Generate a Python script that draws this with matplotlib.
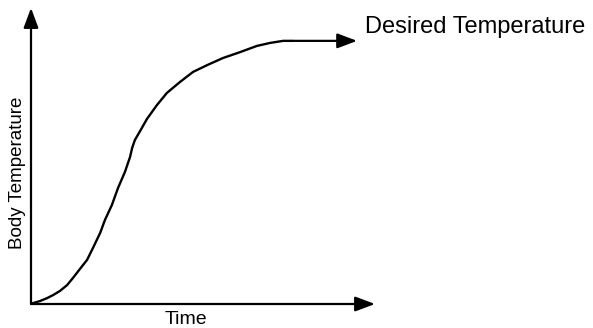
#Body temperature rising over time towards the desired temperature

import matplotlib
matplotlib.use('Agg')
import matplotlib.pyplot as plt
import numpy as np

#Data (arbitrary units)
time = np.array([0.00, 0.06, 0.26, 0.47, 0.64, 0.84, 1.05, 1.22, 1.42, 1.63, 1.80,
                 2.01, 2.15, 2.35, 2.53, 2.73, 2.88, 2.94, 3.02, 3.17, 3.37, 3.66,
                 3.95, 4.33, 4.71, 5.12, 5.58, 6.08, 6.57, 6.95, 7.33, 7.62])
body_temp = np.array([0.00, 0.03, 0.10, 0.20, 0.30, 0.44, 0.64, 0.88, 1.18, 1.49, 1.89,
                      2.40, 2.84, 3.34, 3.92, 4.46, 4.97, 5.27, 5.54, 5.84, 6.25, 6.72,
                      7.13, 7.50, 7.84, 8.07, 8.31, 8.51, 8.72, 8.82, 8.89, 8.89])
desired_end = 9.48   #where the plateau arrow ends
desired_temp = 8.89

xlabel = 'Time'
ylabel = 'Body Temperature'
curve_label = 'Desired Temperature'

plt.rcParams['font.family'] = ['Liberation Sans', 'DejaVu Sans']

fig = plt.figure(figsize=(5.93, 3.28), dpi=100)
ax = fig.add_axes([31/593., 24/328., 344/593., 296/328.])
ax.set_xlim(0, 10)
ax.set_ylim(0, 10)
ax.axis('off')

arrow = dict(arrowstyle='-|>,head_length=1.2,head_width=0.45', lw=1.6,
             color='black', shrinkA=0, shrinkB=0, mutation_scale=10)

#axes as arrows
ax.annotate('', xy=(10, 0), xytext=(0, 0), arrowprops=arrow, annotation_clip=False)
ax.annotate('', xy=(0, 10), xytext=(0, 0), arrowprops=arrow, annotation_clip=False)

#curve
ax.plot(time, body_temp, color='black', lw=1.7, solid_joinstyle='round',
        solid_capstyle='butt', clip_on=False)
ax.annotate('', xy=(desired_end, desired_temp), xytext=(time[-1], body_temp[-1]),
            arrowprops=arrow, annotation_clip=False)

#labels
ax.text(4.5, -0.52, xlabel, ha='center', va='center', fontsize=14)
ax.text(-0.38, 4.43, ylabel, ha='center', va='center', rotation=90, fontsize=13.5)
ax.text(9.71, 9.36, curve_label, ha='left', va='center', fontsize=17)

plt.savefig('out.png', dpi=100)
